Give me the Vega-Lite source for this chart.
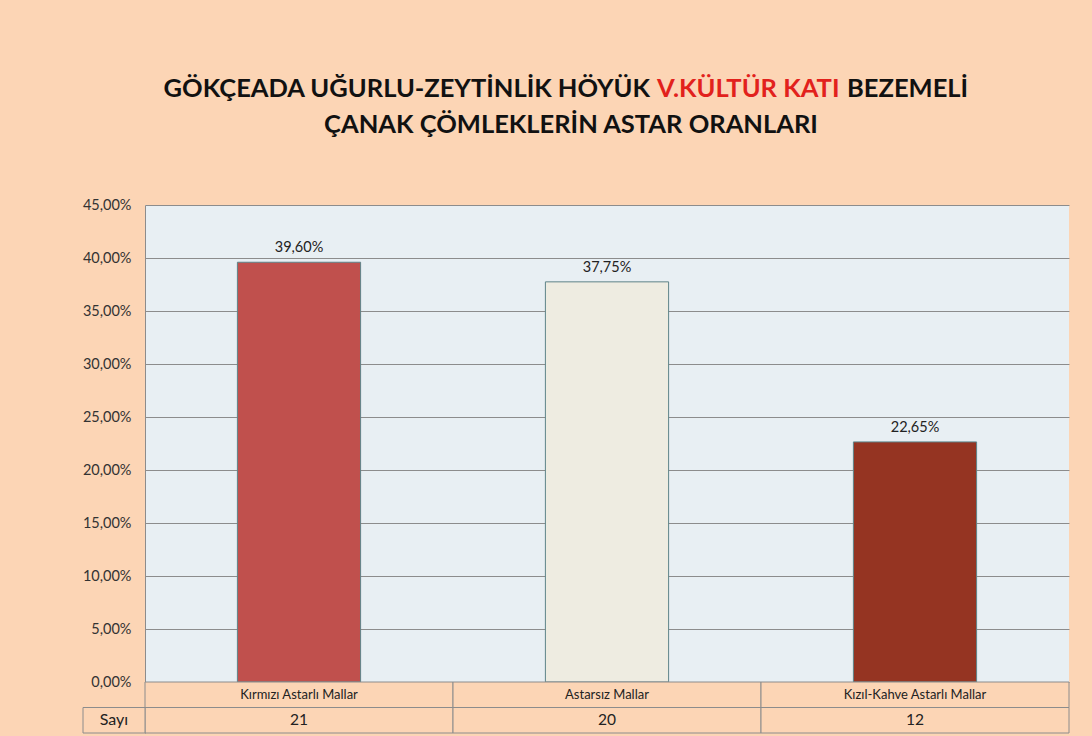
{
  "$schema": "https://vega.github.io/schema/vega-lite/v6.json",
  "width": 924,
  "height": 528,
  "autosize": {"type": "none"},
  "padding": {"left": 145, "top": 205, "right": 23, "bottom": 3},
  "background": "#FCD5B5",
  "view": {"fill": "#E8EFF3", "stroke": null},
  "config": {
    "locale": {"number": {"decimal": ",", "thousands": ".", "grouping": [3], "currency": ["", " TL"]}},
    "view": {"fill": "#E8EFF3", "stroke": null},
    "font": "Lato"
  },
  "data": {
    "values": [
      {"cat": "Kırmızı Astarlı Mallar", "pct": 0.396, "n": 21},
      {"cat": "Astarsız Mallar", "pct": 0.3775, "n": 20},
      {"cat": "Kızıl-Kahve Astarlı Mallar", "pct": 0.2265, "n": 12}
    ]
  },
  "layer": [
    {
      "layer": [
        {
          "mark": {"type": "bar", "stroke": "#5E8489", "strokeWidth": 1},
          "encoding": {
            "x": {"field": "cat", "type": "nominal", "sort": null, "scale": {"paddingInner": 0.6, "paddingOuter": 0.3}, "axis": null},
            "y": {
              "field": "pct", "type": "quantitative",
              "scale": {"domain": [-0.0481, 0.45], "nice": false, "zero": false},
              "axis": {
                "values": [0, 0.05, 0.1, 0.15, 0.2, 0.25, 0.3, 0.35, 0.4, 0.45],
                "format": ".2%", "title": null, "grid": true, "gridColor": "#8C8C8C", "gridWidth": 1,
                "domainColor": "#8C8C8C", "ticks": false, "labelPadding": 14, "labelFontSize": 14.5,
                "labelColor": "#333333", "labelFont": "Lato"
              }
            },
            "color": {"field": "cat", "type": "nominal", "sort": null, "scale": {"range": ["#C0504D", "#EEECE1", "#953422"]}, "legend": null}
          }
        },
        {
          "mark": {"type": "text", "baseline": "bottom", "dy": -7, "fontSize": 14.5, "color": "#222222"},
          "encoding": {
            "x": {"field": "cat", "type": "nominal", "sort": null},
            "y": {"field": "pct", "type": "quantitative"},
            "text": {"field": "pct", "type": "quantitative", "format": ".2%"}
          }
        }
      ]
    },
    {
      "layer": [
        {
          "transform": [{"fold": ["cat", "n"], "as": ["row", "val"]}],
          "mark": {"type": "rect", "fill": "#FCD5B5", "stroke": "#8C8C8C", "strokeWidth": 1},
          "encoding": {
            "x": {"field": "cat", "type": "nominal", "sort": null, "scale": {"paddingInner": 0, "paddingOuter": 0}, "axis": null},
            "y": {"field": "row", "type": "nominal", "scale": {"domain": ["cat", "n"], "range": [477, 528], "paddingInner": 0, "paddingOuter": 0}, "axis": null}
          }
        },
        {
          "mark": {"type": "text", "fontSize": 13, "color": "#222222"},
          "encoding": {
            "x": {"field": "cat", "type": "nominal", "sort": null},
            "y": {"datum": "cat", "type": "nominal"},
            "text": {"field": "cat", "type": "nominal"}
          }
        },
        {
          "mark": {"type": "text", "fontSize": 15.5, "color": "#222222"},
          "encoding": {
            "x": {"field": "cat", "type": "nominal", "sort": null},
            "y": {"datum": "n", "type": "nominal"},
            "text": {"field": "n", "type": "quantitative"}
          }
        }
      ]
    },
    {
      "data": {"values": [{"h": "Sayı"}]},
      "layer": [
        {
          "mark": {"type": "rect", "fill": "#FCD5B5", "stroke": "#8C8C8C", "strokeWidth": 1},
          "encoding": {
            "x": {"field": "h", "type": "nominal", "scale": {"range": [-62, 0], "paddingInner": 0, "paddingOuter": 0}, "axis": null},
            "y": {"datum": "n", "type": "nominal", "scale": {"domain": ["cat", "n"], "range": [477, 528], "paddingInner": 0, "paddingOuter": 0}, "axis": null}
          }
        },
        {
          "mark": {"type": "text", "fontSize": 16, "color": "#222222"},
          "encoding": {
            "x": {"field": "h", "type": "nominal"},
            "y": {"datum": "n", "type": "nominal"},
            "text": {"field": "h", "type": "nominal"}
          }
        }
      ]
    },
    {
      "data": {"values": [{}]},
      "layer": [
        {"mark": {"type": "text", "text": "GÖKÇEADA UĞURLU-ZEYTİNLİK HÖYÜK", "align": "right", "baseline": "middle", "x": 505, "y": -116, "fontSize": 25.5, "fontWeight": "bold", "color": "#111111"}},
        {"mark": {"type": "text", "text": "V.KÜLTÜR KATI", "align": "left", "baseline": "middle", "x": 512, "y": -116, "fontSize": 25.5, "fontWeight": "bold", "color": "#E2211C"}},
        {"mark": {"type": "text", "text": "BEZEMELİ", "align": "left", "baseline": "middle", "x": 702, "y": -116, "fontSize": 25.5, "fontWeight": "bold", "color": "#111111"}},
        {"mark": {"type": "text", "text": "ÇANAK ÇÖMLEKLERİN ASTAR ORANLARI", "align": "center", "baseline": "middle", "x": 426, "y": -80, "fontSize": 25.5, "fontWeight": "bold", "color": "#111111"}}
      ]
    }
  ],
  "resolve": {"scale": {"x": "independent", "y": "independent"}}
}
